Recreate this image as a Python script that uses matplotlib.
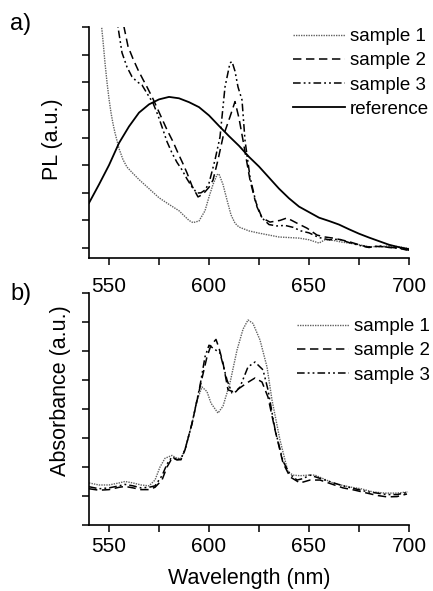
import numpy as np
import matplotlib.pyplot as plt
import matplotlib

matplotlib.rc('font', family='Liberation Sans')
matplotlib.rc('font', size=15)

# ---- panel a: PL spectra (y in tick units) ----
ref_x = [540, 545, 550, 555, 560, 565, 570, 575, 580, 585, 590, 595, 600, 605, 610,
         615, 620, 625, 630, 635, 640, 645, 650, 655, 660, 665, 670, 675, 680, 685,
         690, 695, 700]
ref_y = [1.63, 2.3, 3.0, 3.8, 4.4, 4.9, 5.2, 5.38, 5.47, 5.42, 5.28, 5.1, 4.8, 4.42, 4.05,
         3.7, 3.3, 2.95, 2.55, 2.15, 1.8, 1.5, 1.3, 1.1, 0.98, 0.85, 0.68, 0.52, 0.38, 0.25,
         0.12, 0.03, -0.04]

pl1_x = [545.5, 547, 548, 549, 550, 551, 552, 553, 555, 557, 559, 562, 565, 570, 575, 580,
         585, 590, 592, 595, 598, 600, 602, 604, 605, 607, 609, 611, 613, 615, 620, 625,
         630, 635, 640, 645, 650, 655, 658, 662, 666, 670, 675, 680, 685, 690, 695, 700]
pl1_y = [8.6, 7.5, 6.7, 6.0, 5.4, 4.9, 4.5, 4.17, 3.6, 3.2, 2.93, 2.7, 2.48, 2.15, 1.82, 1.58,
         1.35, 1.0, 0.92, 0.98, 1.35, 1.85, 2.3, 2.65, 2.68, 2.3, 1.74, 1.2, 0.9, 0.76, 0.62, 0.54,
         0.47, 0.4, 0.38, 0.36, 0.3, 0.18, 0.3, 0.28, 0.22, 0.18, 0.12, 0.05, 0.05, 0.08, 0.05, -0.02]

pl2_x = [556, 557.5, 559.5, 562, 564.5, 567, 569, 572, 574.5, 577, 579, 582, 584.5, 587, 589,
         591.5, 594.5, 597, 600, 602, 604.5, 607, 610.5, 613, 615, 617, 620.5, 623, 626.5, 630.5,
         635.5, 639, 644, 649, 654, 658, 662, 666, 670.5, 675, 679, 684, 689, 694, 699]
pl2_y = [8.5, 8.0, 7.3, 6.85, 6.45, 6.1, 5.83, 5.4, 5.0, 4.6, 4.28, 3.85, 3.44, 3.05, 2.72,
         2.25, 1.85, 1.95, 2.2, 2.46, 3.19, 4.02, 4.75, 5.3, 4.7, 3.9, 2.46, 1.74, 1.09, 0.94,
         1.0, 1.09, 0.9, 0.72, 0.47, 0.4, 0.36, 0.3, 0.22, 0.12, 0.04, 0.06, 0.04, 0.0, -0.07]

pl3_x = [553, 554.5, 556.5, 559, 561.5, 564, 566.5, 569, 572, 574.5, 577, 579, 581.5, 584,
         586.5, 589, 591.5, 594, 596, 598, 600, 603, 605.5, 608, 610.5, 611.5, 613, 614.5,
         616.5, 618, 620.5, 624, 626.5, 630, 634, 638, 642, 646, 650, 655, 660, 665, 670,
         675, 680, 685, 690, 695, 700]
pl3_y = [8.6, 8.0, 7.07, 6.55, 6.2, 6.02, 5.9, 5.6, 5.25, 4.8, 4.28, 3.85, 3.44, 3.1,
         2.83, 2.5, 2.21, 1.99, 2.0, 2.1, 2.35, 3.19, 4.02, 5.83, 6.7, 6.75, 6.4, 5.83,
         5.36, 3.9, 2.57, 1.49, 1.09, 0.85, 0.8, 0.82, 0.75, 0.62, 0.55, 0.38, 0.3, 0.32, 0.2,
         0.1, 0.02, 0.08, 0.02, 0.0, -0.08]

# ---- panel b: absorbance ----
ab1_x = [540, 545, 550, 555, 558, 562, 566, 570, 573, 575.5, 578, 581.5, 584, 586, 588,
         591.5, 594, 596.5, 599, 601, 604.5, 607, 610.5, 614, 617, 619.5, 622, 625.5, 629,
         631.5, 635.5, 639.5, 642, 645.5, 650, 653, 657, 662, 666, 670.5, 676, 682, 688,
         694, 699.5]
ab1_y = [1.45, 1.38, 1.38, 1.45, 1.5, 1.45, 1.38, 1.35, 1.55, 2.0, 2.3, 2.4, 2.3, 2.3, 2.6,
         3.5, 4.3, 4.76, 4.6, 4.2, 3.86, 4.1, 4.9, 6.03, 6.75, 7.07, 6.95, 6.38, 5.45,
         4.31, 2.93, 1.83, 1.72, 1.7, 1.72, 1.72, 1.6, 1.45, 1.38, 1.31, 1.25, 1.14, 1.1,
         1.1, 1.14]

ab2_x = [540, 545, 550, 555, 558, 562, 566, 570, 573, 576.5, 579, 581.5, 584, 586, 588,
         591.5, 595.5, 599, 601, 603.5, 605, 607, 609.5, 612, 614, 619, 623, 626.5, 629.5,
         633, 637, 640.5, 645.5, 650.5, 655.5, 661, 667, 673, 679, 684, 689, 694, 699]
ab2_y = [1.25, 1.2, 1.22, 1.3, 1.33, 1.28, 1.22, 1.22, 1.3, 1.55, 2.0, 2.3, 2.25, 2.25, 2.59,
         3.5, 4.76, 5.8, 6.2, 6.4, 6.1, 5.59, 4.66, 4.6, 4.66, 4.9, 5.07, 4.93, 4.41,
         3.28, 2.14, 1.66, 1.45, 1.55, 1.55, 1.42, 1.28, 1.2, 1.1, 1.02, 0.97, 0.98, 1.07]

ab3_x = [540, 545, 550, 555, 558, 562, 566, 570, 573, 576.5, 579, 581.5, 584, 586, 588,
         591.5, 595.5, 598, 600, 602, 605.5, 609, 611.5, 613.5, 615.5, 619.5, 623, 627, 629.5,
         633, 637, 640.5, 644, 647, 650.5, 655, 661, 667, 673, 679, 684, 689, 694, 699]
ab3_y = [1.32, 1.25, 1.28, 1.35, 1.4, 1.35, 1.28, 1.3, 1.35, 1.7, 2.1, 2.35, 2.25, 2.28, 2.6,
         3.5, 4.8, 5.8, 6.2, 6.1, 5.93, 5.0, 4.55, 4.6, 4.76, 5.45, 5.62, 5.35, 4.66,
         3.3, 2.2, 1.75, 1.55, 1.6, 1.72, 1.62, 1.48, 1.35, 1.25, 1.15, 1.1, 1.05, 1.05, 1.12]

xticks = [550, 600, 650, 700]

# line styles
st1 = dict(color='#606060', linestyle=(0, (1, 0.8)), linewidth=1.0)
st2 = dict(color='black', linestyle=(0, (5.5, 3)), linewidth=1.1)
st3 = dict(color='black', linestyle=(0, (5, 2, 1.2, 2, 1.2, 2)), linewidth=1.1)
stref = dict(color='black', linestyle='-', linewidth=1.3)

fig = plt.figure(figsize=(4.33, 5.91), dpi=100)
W, H = 433.0, 591.0
legkw = dict(bbox_transform=fig.transFigure, frameon=False, borderpad=0, fontsize=13.5,
             borderaxespad=0, handlelength=2.75, handletextpad=0.3, labelspacing=0.38)


def setup(ax, ylo, yhi, pad):
    ax.set_xlim(540, 700)
    ax.set_ylim(ylo, yhi)
    ax.spines['top'].set_visible(False)
    ax.spines['right'].set_visible(False)
    ax.spines['left'].set_linewidth(1.2)
    ax.spines['bottom'].set_linewidth(1.2)
    ax.set_xticks(xticks)
    ax.set_xticks([575, 625, 675], minor=True)
    ax.set_yticks(range(0, 9))
    ax.set_yticklabels([])
    ax.tick_params(which='both', direction='out', width=1.1, length=5)
    ax.tick_params(axis='x', pad=pad)


# panel a
axa = fig.add_axes([89 / W, 1 - 258 / H, 320 / W, 231 / H])
setup(axa, -0.36, 8, 8.5)
axa.plot(pl1_x, pl1_y, label='sample 1', **st1)
axa.plot(pl2_x, pl2_y, label='sample 2', **st2)
axa.plot(pl3_x, pl3_y, label='sample 3', **st3)
axa.plot(ref_x, ref_y, label='reference', **stref)
axa.set_ylabel('PL (a.u.)', fontsize=15.5)
axa.yaxis.set_label_coords(-0.08, 0.515)
axa.legend(loc='upper left', bbox_to_anchor=(293 / W, 1 - 28 / H), **legkw)
fig.text(10 / W, 1 - 24 / H, 'a)', fontsize=17, va='center', ha='left')

# panel b
axb = fig.add_axes([89 / W, 1 - 525 / H, 320 / W, 232 / H])
setup(axb, 0, 8, 4.0)
axb.plot(ab1_x, ab1_y, label='sample 1', **st1)
axb.plot(ab2_x, ab2_y, label='sample 2', **st2)
axb.plot(ab3_x, ab3_y, label='sample 3', **st3)
axb.set_ylabel('Absorbance (a.u.)', fontsize=15.5)
axb.yaxis.set_label_coords(-0.056, 0.58)
axb.set_xlabel('Wavelength (nm)', fontsize=15.5, labelpad=8)
axb.legend(loc='upper left', bbox_to_anchor=(297 / W, 1 - 318 / H), **legkw)
fig.text(10 / W, 1 - 294 / H, 'b)', fontsize=17, va='center', ha='left')

fig.savefig('out.png', dpi=100)
